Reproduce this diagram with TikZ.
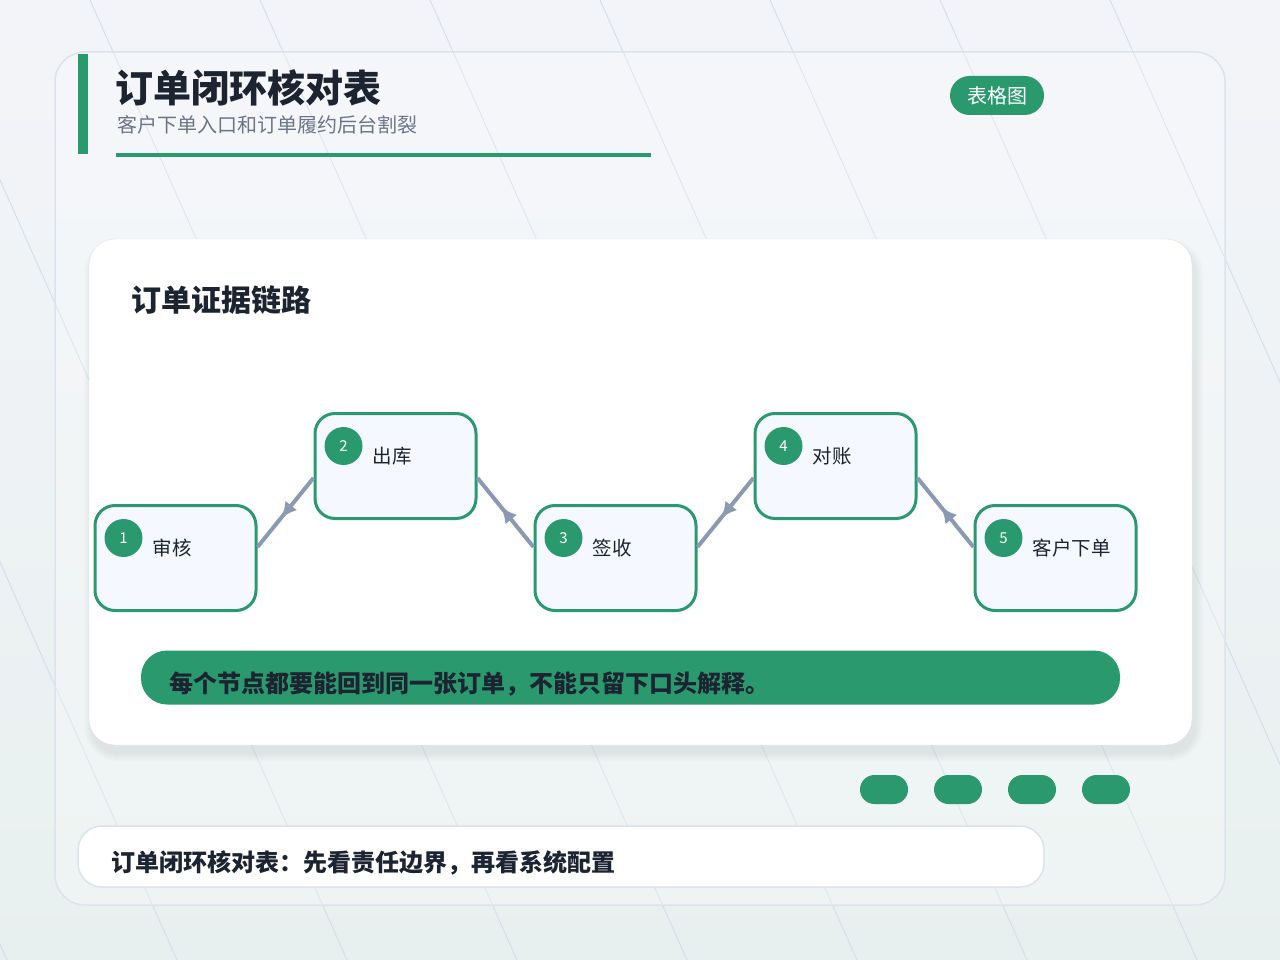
\documentclass[tikz,border=0pt]{standalone}
\usepackage{fontspec}
\setmainfont{Noto Sans CJK SC}
\usetikzlibrary{positioning,decorations.markings,arrows.meta}

\definecolor{brandgreen}{HTML}{2A9A6E}
\definecolor{inkdark}{HTML}{1C2331}
\definecolor{subgrey}{HTML}{6B7587}
\definecolor{gridblue}{HTML}{D2DDEB}
\definecolor{panelline}{HTML}{DCE3EC}
\definecolor{boxfill}{HTML}{F5F9FF}
\definecolor{flowgrey}{HTML}{8A9AB2}
\definecolor{bgtop}{HTML}{F3F4F9}
\definecolor{bgbottom}{HTML}{E8F0EF}
\definecolor{shadowblue}{HTML}{8896AC}

\tikzset{
  stepnode/.style={draw=brandgreen, line width=3pt, fill=boxfill, rounded corners=20pt,
    minimum width=161pt, minimum height=105pt, inner sep=0pt},
  numdot/.style={circle, fill=brandgreen, minimum size=38pt, inner sep=0pt, text=white,
    font=\fontsize{15}{15}\selectfont},
  steplabel/.style={anchor=west, text=inkdark, inner sep=0pt, font=\fontsize{19.5}{20}\selectfont},
  flow/.style={draw=flowgrey, line width=4pt, postaction={decorate},
    decoration={markings, mark=at position 0.58 with {\arrow[flowgrey]{Latex[length=16pt,width=15pt]}}}},
  pill/.style={fill=brandgreen, rounded corners=14.5pt, minimum width=48pt, minimum height=29pt, inner sep=0pt},
  gridline/.style={draw=gridblue, line width=0.9pt},
}

\begin{document}
\begin{tikzpicture}[x=1pt,y=-1pt]
	\useasboundingbox (0,0) rectangle (1280,960);
	% background
	\shade[top color=bgtop, bottom color=bgbottom] (0,0) rectangle (1280,960);
	\begin{scope}
		\clip (0,0) rectangle (1280,960);
		\foreach \k in {-6,...,7}
		{
			\draw[gridline] (90+170*\k,0) -- ++(427,960);
		}
	\end{scope}
	\draw[panelline, line width=1.5pt, fill=white, fill opacity=0.25, rounded corners=30pt] (55,52) rectangle (1225,905);

	% header
	\fill[brandgreen] (78,54) rectangle (88,154);
	\fill[brandgreen] (116,153) rectangle (651,157);
	\node[anchor=west, inner sep=0pt, text=inkdark, font=\fontsize{38}{40}\selectfont\bfseries] (title) at (115,88) {订单闭环核对表};
	\node[anchor=west, inner sep=0pt, text=subgrey, font=\fontsize{20}{22}\selectfont] (subtitle) at (117,125) {客户下单入口和订单履约后台割裂};
	\node[fill=brandgreen, rounded corners=19.5pt, minimum width=94pt, minimum height=39pt, inner sep=0pt,
		text=white, font=\fontsize{20}{22}\selectfont] (badge) at (997,95.5) {表格图};

	% main card with soft shadow
	\foreach \d in {1,...,8}
	{
		\fill[shadowblue, opacity=0.02, rounded corners=26pt+\d pt]
			(89-\d+3,239-\d+8) rectangle (1192+\d+3,745+\d+8);
	}
	\draw[panelline, fill=white, rounded corners=26pt] (89,239) rectangle (1192,745);
	\node[anchor=west, inner sep=0pt, text=inkdark, font=\fontsize{30}{31}\selectfont\bfseries] (cardtitle) at (131,300) {订单证据链路};

	% steps
	\node[stepnode] (s1) at (175.5,558) {};
	\node[stepnode] (s2) at (395.5,466) {};
	\node[stepnode] (s3) at (615.5,558) {};
	\node[stepnode] (s4) at (835.5,466) {};
	\node[stepnode] (s5) at (1055.5,558) {};
	\foreach \s/\t in {1/审核,2/出库,3/签收,4/对账,5/客户下单}
	{
		\node[numdot] (n\s) at ([shift={(30,34)}]s\s.north west) {\s};
		\node[steplabel] (t\s) at ([shift={(59,44)}]s\s.north west) {\t};
	}
	\draw[flow] ([yshift=-12pt]s2.west) -- ([yshift=11pt]s1.east);
	\draw[flow] ([yshift=11pt]s3.west) -- ([yshift=-12pt]s2.east);
	\draw[flow] ([yshift=-12pt]s4.west) -- ([yshift=11pt]s3.east);
	\draw[flow] ([yshift=11pt]s5.west) -- ([yshift=-12pt]s4.east);

	% note banner
	\node[fill=brandgreen, rounded corners=26pt, minimum width=979pt, minimum height=54pt, inner sep=0pt] (banner) at (630.5,677.5) {};
	\node[anchor=west, inner sep=0pt, text=inkdark, font=\fontsize{24}{25}\selectfont\bfseries] (bannertext) at (169,684) {每个节点都要能回到同一张订单，不能只留下口头解释。};

	% pills
	\foreach \i in {0,...,3}
	{
		\node[pill] (p\i) at (884+74*\i,789.5) {};
	}

	% footer
	\draw[panelline, line width=1.5pt, fill=white, rounded corners=24pt] (78,826) rectangle (1044,887);
	\node[anchor=west, inner sep=0pt, text=inkdark, font=\fontsize{24}{26}\selectfont\bfseries] (footer) at (111,863) {订单闭环核对表：先看责任边界，再看系统配置};
\end{tikzpicture}
\end{document}
